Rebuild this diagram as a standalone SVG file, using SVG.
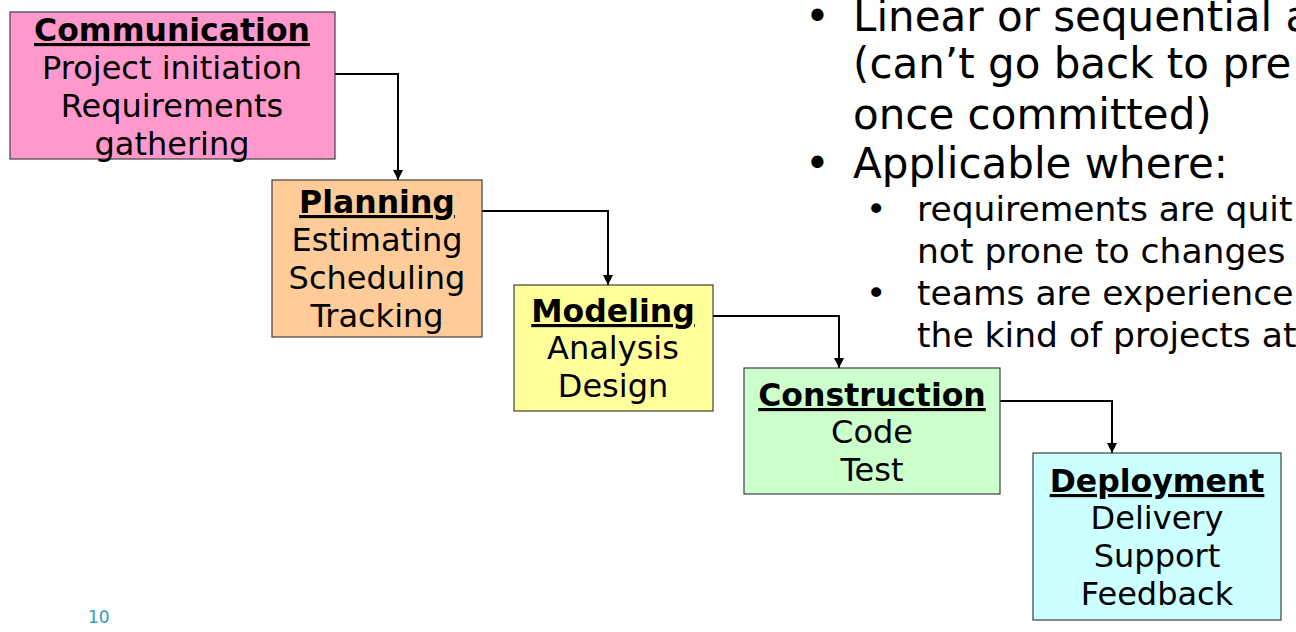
<svg xmlns="http://www.w3.org/2000/svg" width="1296" height="632" viewBox="0 0 1296 632">
<style>
text{font-family:"DejaVu Sans","Verdana",sans-serif;fill:#000}
.box{stroke:#404040;stroke-width:1.2}
.t{font-size:31.5px;font-weight:bold;text-decoration:underline;text-anchor:middle}
.b{font-size:32px;text-anchor:middle}
.m{font-size:42px}
.s{font-size:34.5px}
.con{fill:none;stroke:#000;stroke-width:2}
</style>
<defs>
<marker id="ah" viewBox="0 0 10 10" refX="10" refY="5" markerWidth="5" markerHeight="5" markerUnits="strokeWidth" orient="auto">
<path d="M0,0 L10,5 L0,10 z" fill="#000"/>
</marker>
</defs>
<rect width="1296" height="632" fill="#fff"/>
<g id="connectors">
<path class="con" d="M335,74 H398 V180" marker-end="url(#ah)"/>
<path class="con" d="M482,211 H608 V285" marker-end="url(#ah)"/>
<path class="con" d="M713,316 H839 V368" marker-end="url(#ah)"/>
<path class="con" d="M1000,401 H1112 V453" marker-end="url(#ah)"/>
</g>
<g id="communication">
<rect class="box" x="10" y="12" width="325" height="147" fill="#FF99CC"/>
<text class="t" x="172" y="41">Communication</text>
<text class="b" x="172" y="79">Project initiation</text>
<text class="b" x="172" y="117">Requirements</text>
<text class="b" x="172" y="155">gathering</text>
</g>
<g id="planning">
<rect class="box" x="272" y="180" width="210" height="157" fill="#FFCC99"/>
<text class="t" x="377" y="213">Planning</text>
<text class="b" x="377" y="251">Estimating</text>
<text class="b" x="377" y="289">Scheduling</text>
<text class="b" x="377" y="327">Tracking</text>
</g>
<g id="modeling">
<rect class="box" x="514" y="285" width="199" height="126" fill="#FFFF99"/>
<text class="t" x="613" y="322">Modeling</text>
<text class="b" x="613" y="359">Analysis</text>
<text class="b" x="613" y="397">Design</text>
</g>
<g id="construction">
<rect class="box" x="744" y="368" width="256" height="126" fill="#CCFFCC"/>
<text class="t" x="872" y="406">Construction</text>
<text class="b" x="872" y="443">Code</text>
<text class="b" x="872" y="481">Test</text>
</g>
<g id="deployment">
<rect class="box" x="1033" y="453" width="248" height="167" fill="#CCFFFF"/>
<text class="t" x="1157" y="492">Deployment</text>
<text class="b" x="1157" y="529">Delivery</text>
<text class="b" x="1157" y="567">Support</text>
<text class="b" x="1157" y="605">Feedback</text>
</g>
<g id="bullets">
<text class="m" x="805" y="31">•</text>
<text class="m" x="853" y="31">Linear or sequential a</text>
<text class="m" x="853" y="78">(can’t go back to pre</text>
<text class="m" x="853" y="129">once committed)</text>
<text class="m" x="805" y="178">•</text>
<text class="m" x="853" y="178">Applicable where:</text>
<text class="s" x="866" y="221">•</text>
<text class="s" x="917" y="221">requirements are quit</text>
<text class="s" x="917" y="263">not prone to changes</text>
<text class="s" x="866" y="305">•</text>
<text class="s" x="917" y="305">teams are experience</text>
<text class="s" x="917" y="347">the kind of projects at</text>
</g>
<text x="88" y="623" style="font-size:17px;fill:#2E9CBE">10</text>
</svg>
